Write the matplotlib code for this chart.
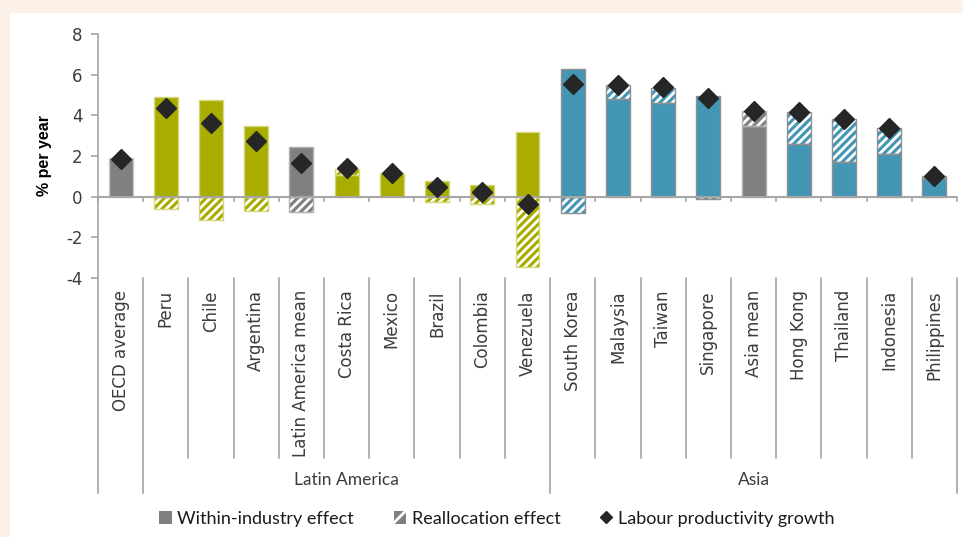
import matplotlib
matplotlib.use("Agg")
import matplotlib.pyplot as plt
from matplotlib.patches import Patch, Rectangle
from matplotlib.lines import Line2D

# Datos: efecto dentro de la industria, efecto de reasignación y crecimiento
paises = ['OECD average', 'Peru', 'Chile', 'Argentina', 'Latin America mean',
          'Costa Rica', 'Mexico', 'Brazil', 'Colombia', 'Venezuela',
          'South Korea', 'Malaysia', 'Taiwan', 'Singapore', 'Asia mean',
          'Hong Kong', 'Thailand', 'Indonesia', 'Philippines']
region = ['oecd', 'lat', 'lat', 'lat', 'mean', 'lat', 'lat', 'lat', 'lat', 'lat',
          'asia', 'asia', 'asia', 'asia', 'mean', 'asia', 'asia', 'asia', 'asia']
within = [1.90, 4.92, 4.76, 3.50, 2.45, 1.05, 1.18, 0.75, 0.57, 3.16,
          6.30, 4.81, 4.61, 4.96, 3.50, 2.59, 1.70, 2.09, 0.92]
realloc = [0.0, -0.59, -1.13, -0.70, -0.74, 0.33, -0.02, -0.28, -0.36, -3.47,
           -0.80, 0.67, 0.74, -0.11, 0.69, 1.55, 2.13, 1.31, 0.11]
growth = [1.85, 4.35, 3.62, 2.76, 1.68, 1.39, 1.16, 0.46, 0.21, -0.34,
          5.53, 5.51, 5.37, 4.86, 4.22, 4.14, 3.83, 3.40, 1.03]
grupos = [('Latin America', 1, 9), ('Asia', 10, 18)]
yticks = [-4, -2, 0, 2, 4, 6, 8]

colores = {'oecd': '#808083', 'mean': '#808083', 'lat': '#a8ad00', 'asia': '#4396b4'}
bordes = {'oecd': '#c8c8c8', 'mean': '#b0b0b0', 'lat': '#d4d77a', 'asia': '#8f8f8f'}
gris_linea = '#a6a6a6'
texto = '#3c3c3c'

plt.rcParams['hatch.linewidth'] = 2.0
plt.rcParams['axes.unicode_minus'] = False
plt.rcParams['font.family'] = ['DejaVu Sans']

fig = plt.figure(figsize=(9.63, 5.37), dpi=100, facecolor='#fbf1e8')
fondo = Rectangle((10 / 963, 0), 1, 1 - 13 / 537, transform=fig.transFigure,
                  facecolor='white', edgecolor='none', zorder=-10)
fig.patches.append(fondo)
ax = fig.add_axes([98 / 963, 1 - 278 / 537, (957 - 98) / 963, (278 - 34) / 537])
ax.set_facecolor('none')

x = list(range(len(paises)))
w = 0.53
for i in x:
    c = colores[region[i]]
    e = bordes[region[i]]
    ax.bar(i, within[i], w, color=c, edgecolor='none', zorder=2)
    if realloc[i] >= 0:
        base = within[i]
    else:
        base = 0
    if abs(realloc[i]) > 0.03:
        ax.bar(i, realloc[i], w, bottom=base, color=c, edgecolor='white',
               hatch='////', linewidth=0, zorder=2)
        ax.bar(i, realloc[i], w, bottom=base, fill=False, edgecolor=e,
               linewidth=1.0, zorder=3)
    ax.bar(i, within[i], w, fill=False, edgecolor=e, linewidth=1.0, zorder=3)

ax.plot(x, growth, linestyle='none', marker='D', markersize=10,
        color='#262626', zorder=5)

ax.set_xlim(-0.5, len(paises) - 0.5)
ax.set_ylim(-4, 8)
ax.set_yticks(yticks)
ax.set_xticks([])
for s in ['top', 'right', 'bottom']:
    ax.spines[s].set_visible(False)
ax.spines['left'].set_color(gris_linea)
ax.spines['left'].set_linewidth(1.2)
ax.tick_params(axis='y', colors=gris_linea, length=5, width=1.2, pad=6,
               labelsize=12, labelcolor=texto)
ax.set_ylabel('% per year', fontsize=11.5, fontweight='bold', color='black',
              family=['Liberation Sans', 'DejaVu Sans'], labelpad=10)

# linea del cero con marcas
ax.axhline(0, color=gris_linea, linewidth=1.5, zorder=4)
for k in range(len(paises) + 1):
    ax.plot([k - 0.5, k - 0.5], [0, -0.22], color=gris_linea, linewidth=1.2,
            zorder=4, clip_on=False)

# eje de categorias en dos niveles
y_corto = -12.85
y_largo = -14.57
largos = [0, 1, 10, len(paises)]
for k in range(len(paises) + 1):
    fin = y_largo if k in largos else y_corto
    ax.plot([k - 0.5, k - 0.5], [-4, fin], color=gris_linea, linewidth=1.2,
            clip_on=False)
for i in x:
    ax.text(i, -4.6, paises[i], rotation=90, ha='center', va='top',
            fontsize=12, color=texto, clip_on=False)
for nombre, a, b in grupos:
    ax.text((a + b) / 2, -13.95, nombre, ha='center', va='center',
            fontsize=12.5, color=texto, family=['Lato', 'DejaVu Sans'],
            clip_on=False)

handles = [Patch(facecolor='#808083', edgecolor='none'),
           Patch(facecolor='#808083', edgecolor='white', hatch='//', linewidth=0),
           Line2D([], [], linestyle='none', marker='D', markersize=6, color='#262626')]
labels = ['Within-industry effect', 'Reallocation effect', 'Labour productivity growth']
fig.legend(handles, labels, loc='center', bbox_to_anchor=(0.516, 0.034), ncol=3,
           frameon=False, handlelength=0.7, handleheight=0.7, handletextpad=0.3,
           columnspacing=2.2, prop={'family': ['Lato', 'DejaVu Sans'], 'size': 13},
           labelcolor='#1a1a1a')

fig.savefig('out.png', dpi=100, facecolor=fig.get_facecolor())
